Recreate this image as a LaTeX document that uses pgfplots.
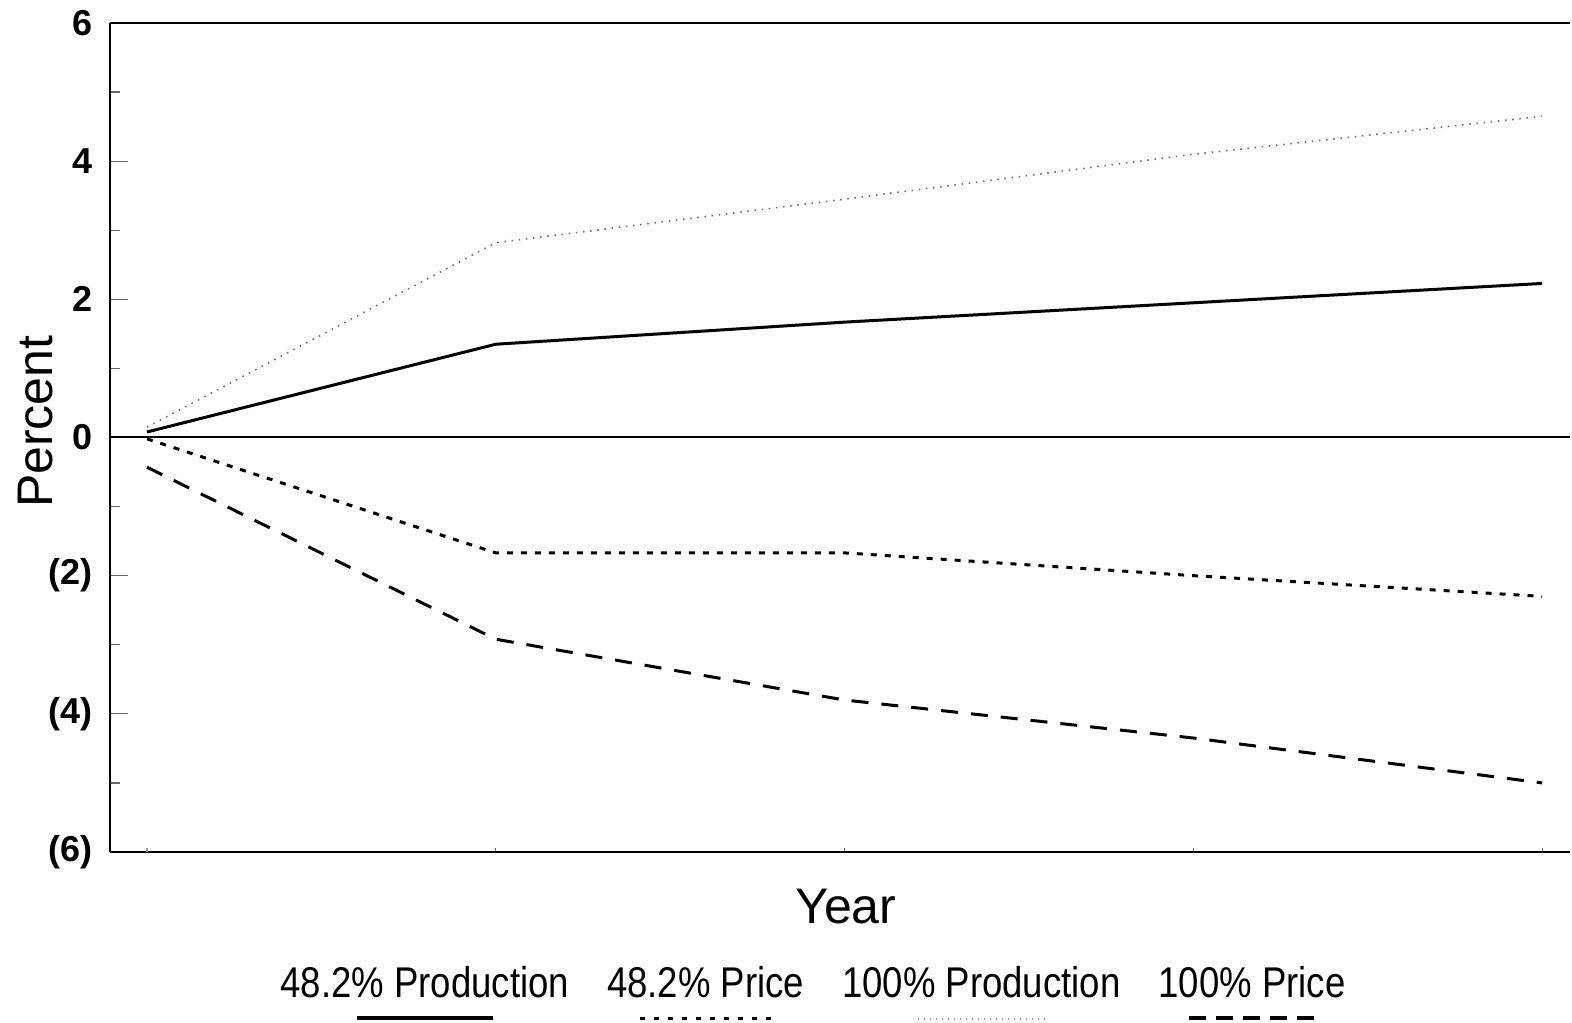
\documentclass[border=0pt]{standalone}
\usepackage{pgfplots}
\pgfplotsset{compat=1.18}
\usepackage{fontspec}
\setmainfont{Liberation Sans}
\newfontfamily\legfont[FakeStretch=0.85]{Liberation Sans}
\usetikzlibrary{calc}
\newcommand{\sampleSolid}{\rule{68pt}{2pt}}
\newcommand{\sampleDot}{\hbox to 70pt{\cleaders\hbox to 7pt{\hss\rule{2.5pt}{1.5pt}\hss}\hfill}}
\newcommand{\sampleLight}{\hbox to 68pt{\color{black!45}\cleaders\hbox to 3pt{\hss\rule{0.8pt}{0.8pt}\hss}\hfill}}
\newcommand{\sampleDash}{\hbox to 68pt{\cleaders\hbox to 13.5pt{\hss\rule{8.5pt}{2pt}\hss}\hfill}}
\newcommand{\legentry}[2]{\begin{tabular}{@{}c@{}}#1\\[-14.5pt]#2\end{tabular}}
\begin{document}
\begin{tikzpicture}
\begin{axis}[name=ax, scale only axis, width=730pt, height=414.5pt,
  xmin=-0.106, xmax=4.08, ymin=-6, ymax=6,
  axis x line=box, axis y line=left,
  axis line style={-, line width=1.3pt, black},
  every outer y axis line/.append style={-},
  every outer x axis line/.append style={-},
  tick align=inside, xtick pos=bottom, ytick pos=left,
  ytick={-6,-4,-2,0,2,4,6}, yticklabels={(6),(4),(2),0,2,4,6},
  minor ytick={-5,-3,-1,1,3,5},
  major tick length=9pt, minor tick length=5pt,
  tick style={black!60, line width=0.6pt},
  xtick={1,2,3,4}, xticklabels={},
  xtick style={/pgfplots/major tick length=2pt},
  extra x ticks={0}, extra x tick labels={},
  extra x tick style={major tick length=10pt, tick style={black!40, line width=0.6pt}},
  extra y ticks={0}, extra y tick labels={},
  extra y tick style={grid=major, major grid style={black, line width=1pt}, major tick length=0pt},
  /pgf/number format/assume math mode=true,
  yticklabel style={font=\bfseries\fontsize{18}{21}\selectfont, xshift=-5pt},
  ylabel={Percent},
  ylabel style={font=\fontsize{25}{30}\selectfont, at={(axis description cs:-0.0507,0.519)}, anchor=center},
  xlabel={Year},
  xlabel style={font=\fontsize{25}{30}\selectfont, at={(axis description cs:0.504,-0.066)}, anchor=center},
  legend columns=4,
  legend image code/.code={},
  legend cell align=center,
  legend style={at={(axis description cs:0.4815,-0.1265)}, anchor=north, draw=none, fill=none,
    font=\legfont\fontsize{21.5}{25.8}\selectfont, inner sep=0pt,
    /tikz/every even column/.append style={column sep=15pt}},
]
\addplot[black, line width=1.5pt] coordinates {(0,0.08) (1,1.35) (2,1.67) (3,1.95) (4,2.23)};
\addlegendentry{\legentry{48.2\% Production}{\sampleSolid}}
\addplot[black, line width=1.5pt, dash pattern=on 3pt off 4pt] coordinates {(0,-0.02) (1,-1.67) (2,-1.67) (3,-2.0) (4,-2.3)};
\addlegendentry{\legentry{48.2\% Price}{\sampleDot}}
\addplot[black!55, line width=0.8pt, dash pattern=on 0.8pt off 2.8pt] coordinates {(0,0.15) (1,2.82) (2,3.45) (3,4.1) (4,4.65)};
\addlegendentry{\legentry{100\% Production}{\sampleLight}}
\addplot[black, line width=1.5pt, dash pattern=on 8.5pt off 6.5pt] coordinates {(0,-0.43) (1,-2.92) (2,-3.8) (3,-4.35) (4,-5.0)};
\addlegendentry{\legentry{100\% Price}{\sampleDash}}
\end{axis}
\pgfresetboundingbox
\path ($(ax.south west)+(-55pt,-85pt)$) rectangle ($(ax.north east)+(1pt,11.5pt)$);
\end{tikzpicture}
\end{document}
